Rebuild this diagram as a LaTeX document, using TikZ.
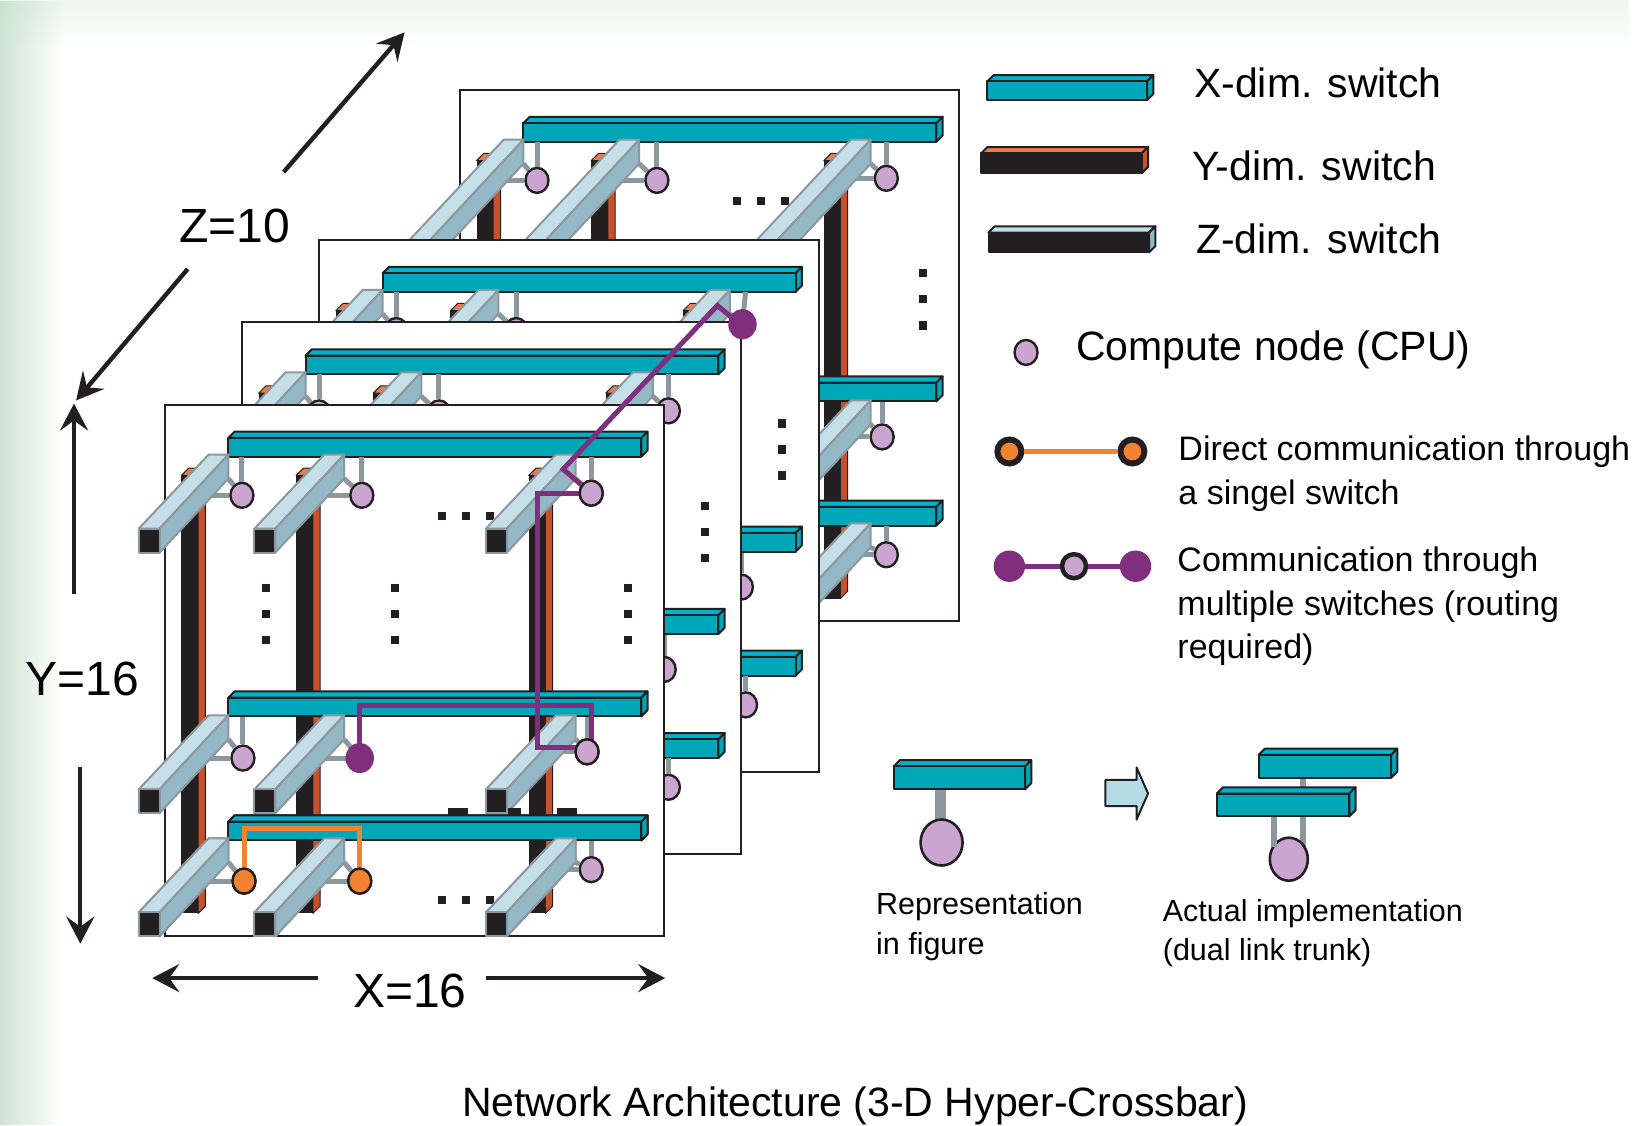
\documentclass[tikz,border=0pt]{standalone}
\usepackage{fontspec}
\setmainfont{Liberation Sans}
\usetikzlibrary{arrows.meta,shapes.geometric,fadings}

\definecolor{tealfront}{HTML}{00A7B8}
\definecolor{tealtop}{HTML}{00B2CC}
\definecolor{inkblack}{HTML}{231F20}
\definecolor{rust}{HTML}{C8502A}
\definecolor{rusttop}{HTML}{EE7A4F}
\definecolor{icetop}{HTML}{C5DFE8}
\definecolor{iceside}{HTML}{94B8C6}
\definecolor{linkgray}{HTML}{8C979E}
\definecolor{cpupink}{HTML}{C9A5CF}
\definecolor{routepurple}{HTML}{7F2F7D}
\definecolor{directorange}{HTML}{F28430}
\definecolor{edgegreen}{HTML}{BFDCC4}
\definecolor{arrowblue}{HTML}{B5DCE6}

\tikzset{
	xface/.style={draw=inkblack, line width=2pt, line join=round},
	yface/.style={draw=inkblack, line width=1pt, line join=round},
	zface/.style={draw=linkgray, line width=2pt, line join=round},
	planeframe/.style={fill=white, draw=inkblack, line width=2pt},
	cpu/.style={ellipse, fill=cpupink, draw=inkblack, line width=2.4pt, inner sep=0pt, minimum width=23pt, minimum height=25pt},
	cpuorange/.style={cpu, fill=directorange},
	cpupurple/.style={cpu, fill=routepurple, draw=routepurple, minimum width=26pt, minimum height=28pt},
	cpu2-3-1/.style={xshift=-3.1pt, yshift=4.2pt},
	stublink/.style={draw=linkgray, line width=5pt},
	routeline/.style={draw=routepurple, line width=5pt, line join=miter},
	directline/.style={draw=directorange, line width=5pt, line join=miter},
	dimarrow/.style={draw=inkblack, line width=4.4pt, -{Stealth[length=27pt, width=28pt, inset=10pt]}},
	bigtext/.style={font=\fontsize{48}{50}\selectfont, inner sep=0pt},
	legendtext/.style={font=\fontsize{41}{46}\selectfont, anchor=west, inner sep=0pt},
	notetext/.style={font=\fontsize{34}{43.8}\selectfont, anchor=west, align=left, inner sep=0pt},
	smalltext/.style={font=\fontsize{30.5}{39.5}\selectfont, anchor=west, align=left, inner sep=0pt},
}

% x, bottom y, width, height, depth, then the three face fills
\newcommand{\slab}[8]{
	\filldraw[fill=#7, #8] (#1,#2-#4) -- ++(#5,-#5) -- ++(#3,0) -- ++(-#5,#5) -- cycle;
	\filldraw[fill=#6, #8] (#1+#3,#2) -- ++(#5,-#5) -- ++(0,-#4) -- ++(-#5,#5) -- cycle;
}
\newcommand{\xslab}[4]{
	\slab{#1}{#2}{#3}{#4}{6}{tealfront}{tealtop}{xface}
	\filldraw[fill=tealfront, xface] (#1,#2) rectangle ++(#3,-#4);
}
\newcommand{\yslab}[4]{
	\filldraw[fill=rust, yface] (#1+#3,#2) -- ++(7,-7) -- ++(0,-#4) -- ++(-7,7) -- cycle;
	\filldraw[fill=rusttop, yface] (#1,#2-#4) -- ++(7,-7) -- ++(#3,0) -- ++(-7,7) -- cycle;
	\fill[inkblack] (#1,#2) rectangle ++(#3,-#4);
}
% back end of the bar stays put, #3 pulls its front end further out
\newcommand{\zbar}[3]{
	\filldraw[fill=icetop, zface] (#1-#3,#2+#3*1.076) -- ++(20,0) -- (#1+86,#2-71) -- ++(-19,0) -- cycle;
	\filldraw[fill=iceside, zface] (#1-#3+20,#2+#3*1.076) -- ++(0,23) -- (#1+86,#2-48) -- ++(0,-23) -- cycle;
	\filldraw[fill=inkblack, zface] (#1-#3,#2+#3*1.076) rectangle ++(20,23);
}

\def\celllist{1/1/-25/119/74/87, 2/1/86/119/189/87, 3/1/308/119/409/85,
	1/2/-25/369/75/339, 2/2/86/369/187/339, 3/2/308/369/405/333,
	1/3/-25/487/76/457, 2/3/86/487/187/457, 3/3/308/487/409/446}

\newcommand{\planeat}[4]{
	\begin{scope}[shift={(#1,#2)}]
		\filldraw[planeframe] (0,0) rectangle (479,510);
		\foreach \yx in {16,126,349}
			\yslab{\yx}{488}{16}{420};
		\foreach \by in {50,299,418}
			\xslab{61}{\by}{396}{18};
		\foreach \dx in {266,289,312}
			\foreach \dy in {107,475}
				\fill[inkblack] (\dx-4,\dy-4) rectangle ++(8,8);
		\foreach \dx in {97,221,444}
			\foreach \dy in {176,201,226}
				\fill[inkblack] (\dx-4,\dy-4) rectangle ++(8,8);
		\foreach \col/\row/\zx/\zy/\nx/\ny in \celllist {
			\node[cpu, cpu#3-\col-\row/.try] (c#3-\col-\row) at (\nx,\ny) {};
			\coordinate (s#3-\col-\row) at (\nx,\zy-69);
			\coordinate (d#3-\col-\row) at (\zx+86,\zy-48);
			\coordinate (h#3-\col-\row) at (\zx+60,\ny);
			\draw[stublink] (c#3-\col-\row) -- (s#3-\col-\row);
			\draw[stublink] (c#3-\col-\row) -- (d#3-\col-\row);
			\draw[stublink] (c#3-\col-\row) -- (h#3-\col-\row);
			\zbar{\zx}{\zy}{#4}
		}
	\end{scope}
}

\begin{document}
\begin{tikzpicture}[x=1.0427pt, y=-1.0427pt]
	\useasboundingbox (0,0) rectangle (1568,1079);
	\fill[white] (0,0) rectangle (1568,1079);
	\begin{scope}
		\clip (0,0) rectangle (1568,1079);
		\fill[edgegreen!35, path fading=south] (0,-15) rectangle (1568,45);
		\fill[edgegreen, path fading=east] (-20,0) rectangle (60,1079);
	\end{scope}

	\planeat{441}{86}{3}{40}
	\planeat{306}{230}{2}{0}
	\planeat{232}{309}{1}{0}
	\planeat{158}{388}{0}{0}

	\fill[inkblack] (430,775) rectangle (449,782);
	\fill[inkblack] (487,775) rectangle (500,782);
	\fill[inkblack] (534,775) rectangle (553,782);
	\xslab{219}{806}{396}{18}
	\zbar{133}{875}{0}
	\zbar{244}{875}{0}
	\zbar{466}{875}{0}

	\coordinate (rtopa) at (345,677);
	\coordinate (rtopb) at (567,677);
	\coordinate (rtopc) at (567,712);
	\coordinate (rlowa) at (555,717);
	\coordinate (rlowb) at (515,717);
	\coordinate (rlowc) at (515,473);
	\coordinate (rdiaga) at (540,450);
	\coordinate (rdiagb) at (688,293);
	\coordinate (rdiagc) at (700,303);
	\coordinate (otopa) at (234,795);
	\coordinate (otopb) at (345,795);
	\draw[routeline] (c0-2-2.center) -- (rtopa) -- (rtopb) -- (rtopc);
	\draw[routeline] (rlowa) -- (rlowb) -- (rlowc) -- (c0-3-1.center);
	\draw[routeline] (c0-3-1.center) -- (rdiaga) -- (rdiagb) -- (rdiagc) -- (c2-3-1.center);
	\draw[directline] (c0-1-3.center) -- (otopa) -- (otopb) -- (c0-2-3.center);
	\node[cpupurple] (routeend) at (c2-3-1) {};
	\node[cpupurple] (routestart) at (c0-2-2) {};
	\node[cpu] (hopa) at (c0-3-2) {};
	\node[cpu] (hopb) at (c0-3-1) {};
	\node[cpuorange] (directa) at (c0-1-3) {};
	\node[cpuorange] (directb) at (c0-2-3) {};

	\node[bigtext] (zlabel) at (225,217) {Z=10};
	\node[bigtext] (ylabel) at (79,651) {Y=16};
	\node[bigtext] (xlabel) at (393,950) {X=16};
	\coordinate (zhead) at (388,31);
	\coordinate (ztail) at (73,384);
	\coordinate (yhead) at (71,387);
	\coordinate (ytail) at (77,905);
	\coordinate (xhead) at (146,938);
	\coordinate (xtail) at (638,938);
	\draw[dimarrow] (272,165) -- (zhead);
	\draw[dimarrow] (180,258) -- (ztail);
	\draw[dimarrow] (71,570) -- (yhead);
	\draw[dimarrow] (77,736) -- (ytail);
	\draw[dimarrow] (305,938) -- (xhead);
	\draw[dimarrow] (466,938) -- (xtail);

	\xslab{947}{96}{153}{18}
	\slab{941}{166}{154}{19}{6}{rust}{rusttop}{xface}
	\filldraw[fill=inkblack, xface] (941,166) rectangle ++(154,-19);
	\slab{948}{242}{154}{19}{6}{iceside}{icetop}{xface}
	\filldraw[fill=inkblack, xface] (948,242) rectangle ++(154,-19);
	\node[legendtext] (xswitchtext) at (1145,79) {X-dim. switch};
	\node[legendtext] (yswitchtext) at (1143,159) {Y-dim. switch};
	\node[legendtext] (zswitchtext) at (1147,229) {Z-dim. switch};

	\node[cpu] (legendcpu) at (984,338) {};
	\node[legendtext] (cputext) at (1032,336) {Compute node (CPU)};

	\node[cpuorange, line width=6pt, minimum width=24pt, minimum height=24pt] (lega) at (968,433) {};
	\node[cpuorange, line width=6pt, minimum width=24pt, minimum height=24pt] (legb) at (1086,433) {};
	\draw[directline] (lega) -- (legb);
	\node[notetext, anchor=north west] (directtext) at (1130,418) {Direct communication through\\a singel switch};

	\node[cpupurple, minimum width=29pt, minimum height=29pt] (legc) at (968,543) {};
	\node[cpu, line width=4.5pt, minimum width=24pt, minimum height=24pt] (legd) at (1030,543) {};
	\node[cpupurple, minimum width=29pt, minimum height=29pt] (lege) at (1089,543) {};
	\draw[routeline] (legc) -- (legd);
	\draw[routeline] (legd) -- (lege);
	\node[notetext, anchor=north west] (routetext) at (1129,524) {Communication through\\multiple switches (routing\\required)};

	\coordinate (repstubtop) at (902,758);
	\coordinate (repstubend) at (902,790);
	\draw[stublink, line width=11pt] (repstubend) -- (repstubtop);
	\node[cpu, minimum width=42pt, minimum height=46pt, line width=2.6pt] (repcpu) at (903,808) {};
	\xslab{857}{757}{126}{22}
	\filldraw[fill=arrowblue, xface] (1060,748) -- (1090,748) -- (1090,736) -- (1101,761) -- (1090,786) -- (1090,773) -- (1060,773) -- cycle;

	\coordinate (implstuba) at (1222,783);
	\coordinate (implstubb) at (1250,745);
	\coordinate (implstubc) at (1222,812);
	\coordinate (implstubd) at (1250,812);
	\draw[stublink, line width=6pt] (implstubd) -- (implstubb);
	\node[cpu, minimum width=38pt, minimum height=43pt, line width=2.6pt] (implcpu) at (1236,824) {};
	\draw[stublink, line width=6pt] (implstubc) -- (implstuba);
	\xslab{1207}{746}{127}{22}
	\xslab{1167}{783}{127}{22}

	\node[smalltext, anchor=north west] (reptext) at (840,856) {Representation\\in figure};
	\node[smalltext, anchor=north west] (impltext) at (1115,862) {Actual implementation\\(dual link trunk)};
	\node[font=\fontsize{41}{46}\selectfont, inner sep=0pt] (titletext) at (820,1061) {Network Architecture (3-D Hyper-Crossbar)};
\end{tikzpicture}
\end{document}
